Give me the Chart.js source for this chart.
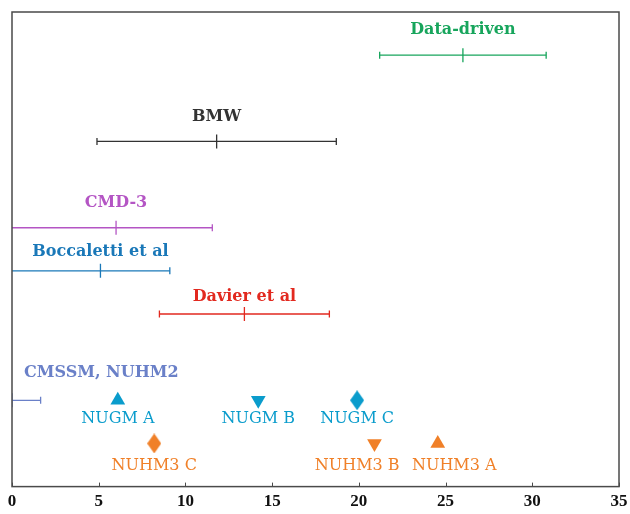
<!DOCTYPE html>
<html>
<head>
<meta charset="utf-8">
<script src="https://cdn.jsdelivr.net/npm/chart.js@4.4.1/dist/chart.umd.min.js"></script>
<style>
  html, body { margin: 0; padding: 0; background: #fff; }
  #wrap { width: 630px; height: 514px; }
</style>
</head>
<body>
<div id="wrap"><canvas id="chart"></canvas></div>
<script>
// Interval estimates: low end, central value, high end, row
const barNames = ['Data-driven', 'BMW', 'CMD-3', 'Boccaletti et al', 'Davier et al', 'CMSSM, NUHM2'];
const barLow = [21.2, 4.9, -0.5, -0.5, 8.5, -1.6];
const barMid = [26.0, 11.8, 6.0, 5.1, 13.4, 0];
const barHigh = [30.8, 18.7, 11.55, 9.1, 18.3, 1.65];
const barRow = [10, 8, 6, 5, 4, 2];
const barLabelX = [26.0, 11.8, 6.0, 5.1, 13.4, 5.15];

// Benchmark points
const pointNames = ['NUGM A', 'NUGM B', 'NUGM C', 'NUHM3 C', 'NUHM3 B', 'NUHM3 A'];
const pointValues = [6.1, 14.2, 19.9, 8.2, 20.9, 24.55];
const pointRow = [2, 2, 2, 1, 1, 1];
const pointLabelX = [6.1, 14.2, 19.9, 8.2, 19.9, 25.5];

const xTicks = [0, 5, 10, 15, 20, 25, 30, 35];

// styling
const barColors = ['#17a55c', '#333333', '#b455c4', '#1a78b8', '#e2291f', '#6a80c8'];
const barLabelLift = [25, 25, 25, 19, 17, 27];
const nugmColor = '#0a9ccc';
const nuhmColor = '#f08028';
const pointColors = [nugmColor, nugmColor, nugmColor, nuhmColor, nuhmColor, nuhmColor];
const pointShapes = ['up', 'down', 'diamond', 'diamond', 'down', 'up'];
const pointLabelDrop = [19, 19, 19, 22, 22, 22];
const serif = '"DejaVu Serif", serif';

function diamond(color) {
    const c = document.createElement('canvas');
    c.width = 14;
    c.height = 20;
    const g = c.getContext('2d');
    g.fillStyle = color;
    g.beginPath();
    g.moveTo(7, 0);
    g.lineTo(14, 10);
    g.lineTo(7, 20);
    g.lineTo(0, 10);
    g.closePath();
    g.fill();
    return c;
}

const datasets = [];

barNames.forEach((name, i) => {
    datasets.push({
        label: name,
        showLine: true,
        data: [
            { x: barLow[i], y: barRow[i] },
            { x: barMid[i], y: barRow[i] },
            { x: barHigh[i], y: barRow[i] }
        ],
        borderColor: barColors[i],
        borderWidth: 1.3,
        pointStyle: 'line',
        pointRotation: 90,
        pointRadius: [3.5, 7, 3.5],
        pointBorderColor: barColors[i],
        pointBorderWidth: 1.3,
        pointHoverRadius: 0
    });
});

pointNames.forEach((name, i) => {
    const shape = pointShapes[i];
    datasets.push({
        label: name,
        data: [{ x: pointValues[i], y: pointRow[i] }],
        pointStyle: shape === 'diamond' ? diamond(pointColors[i]) : 'triangle',
        pointRotation: shape === 'down' ? 180 : 0,
        pointRadius: 8.5,
        backgroundColor: pointColors[i],
        borderWidth: 0
    });
});

// frame around plot area plus inward tick marks on the bottom
const framePlugin = {
    id: 'frame',
    afterDraw(chart) {
        const { ctx, chartArea: a, scales } = chart;
        ctx.save();
        ctx.strokeStyle = '#4a4a4a';
        ctx.lineWidth = 1.5;
        ctx.strokeRect(a.left, a.top, a.right - a.left, a.bottom - a.top);
        ctx.lineWidth = 1;
        xTicks.forEach(v => {
            const px = Math.round(scales.x.getPixelForValue(v)) + 0.5;
            ctx.beginPath();
            ctx.moveTo(px, a.bottom);
            ctx.lineTo(px, a.bottom - 4);
            ctx.stroke();
        });
        ctx.restore();
    }
};

// names above the intervals and below the benchmark points
const labelPlugin = {
    id: 'labels',
    afterDatasetsDraw(chart) {
        const { ctx, scales } = chart;
        ctx.save();
        ctx.textAlign = 'center';
        ctx.textBaseline = 'middle';
        ctx.font = 'bold 16px ' + serif;
        barNames.forEach((name, i) => {
            ctx.fillStyle = barColors[i];
            ctx.fillText(name, scales.x.getPixelForValue(barLabelX[i]),
                scales.y.getPixelForValue(barRow[i]) - barLabelLift[i]);
        });
        ctx.font = '16px ' + serif;
        pointNames.forEach((name, i) => {
            ctx.fillStyle = pointColors[i];
            ctx.fillText(name, scales.x.getPixelForValue(pointLabelX[i]),
                scales.y.getPixelForValue(pointRow[i]) + pointLabelDrop[i]);
        });
        ctx.restore();
    }
};

new Chart(document.getElementById('chart'), {
    type: 'scatter',
    data: { datasets: datasets },
    options: {
        responsive: true,
        maintainAspectRatio: false,
        animation: false,
        layout: { padding: { left: 12, right: 11, top: 12, bottom: -3 } },
        plugins: {
            legend: { display: false },
            tooltip: { enabled: false }
        },
        scales: {
            x: {
                type: 'linear',
                min: 0,
                max: 35,
                grid: { display: false, drawTicks: false, tickLength: 0 },
                border: { display: false },
                afterBuildTicks: scale => {
                    scale.ticks = xTicks.map(v => ({ value: v }));
                },
                afterFit: scale => {
                    // end labels may hang past the frame
                    scale.paddingLeft = 0;
                    scale.paddingRight = 0;
                },
                ticks: {
                    padding: 5,
                    color: '#111',
                    maxRotation: 0,
                    font: { family: '"Liberation Serif", serif', size: 17, weight: 'bold' }
                }
            },
            y: {
                type: 'linear',
                min: 0,
                max: 11,
                display: false
            }
        }
    },
    plugins: [framePlugin, labelPlugin]
});
</script>
</body>
</html>
